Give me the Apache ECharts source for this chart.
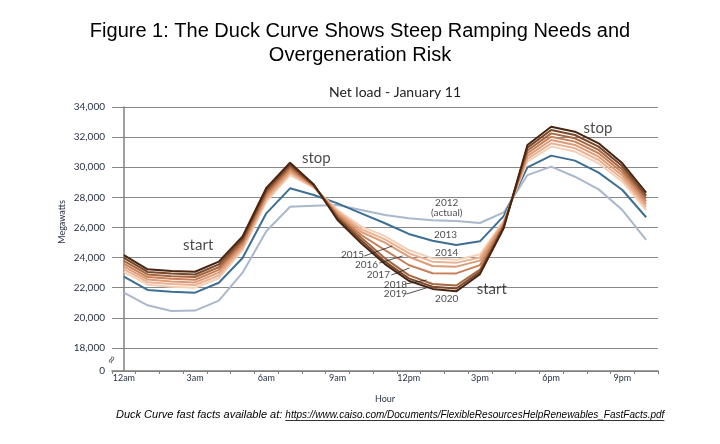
<!DOCTYPE html>
<html>
<head>
<meta charset="utf-8">
<script src="https://cdn.jsdelivr.net/npm/echarts@6/dist/echarts.min.js"></script>
<style>
html,body{margin:0;padding:0;background:#fff;}
#chart{width:720px;height:444px;}
</style>
</head>
<body>
<div id="chart"></div>
<script>
// ---- data ----
const hours = ['12am','1am','2am','3am','4am','5am','6am','7am','8am','9am','10am','11am','12pm','1pm','2pm','3pm','4pm','5pm','6pm','7pm','8pm','9pm','10pm'];
const yTickValues = [16470,18000,20000,22000,24000,26000,28000,30000,32000,34000];
const years = ['2012','2013','2014','2015','2016','2017','2018','2019','2020'];
const y2012 = [21670,20830,20450,20480,21140,23000,25750,27380,27450,27490,27160,26830,26610,26480,26430,26300,27000,29480,30040,29370,28530,27160,25170];
const y2013 = [22730,21850,21740,21670,22330,23970,26940,28600,28160,27600,26940,26280,25570,25120,24840,25080,26750,29990,30770,30440,29640,28490,26680];
const y2014 = [23050,22200,22070,22000,22630,24500,27720,29480,28650,27160,26060,25430,24500,23950,23850,24200,26450,30370,31370,31040,30260,29040,27160];
const y2015 = [23230,22370,22240,22180,22810,24650,27870,29620,28680,27050,25880,25210,24290,23730,23650,24000,26370,30560,31590,31260,30480,29240,27350];
const y2016 = [23420,22540,22420,22350,23000,24800,28020,29750,28720,26940,25700,24990,24060,23440,23400,23800,26280,30740,31810,31480,30700,29450,27540];
const y2017 = [23600,22710,22590,22530,23180,24950,28170,29890,28750,26830,25500,24500,23510,22960,22950,23500,26200,30930,32030,31700,30930,29650,27740];
const y2018 = [23790,22880,22760,22710,23360,25100,28320,30030,28780,26720,25320,23950,22840,22250,22150,23200,26120,31110,32250,31920,31150,29850,27930];
const y2019 = [23980,23050,22940,22880,23550,25250,28470,30160,28820,26610,25130,23730,22620,22070,21950,23050,26030,31300,32470,32140,31370,30060,28120];
const y2020 = [24170,23220,23110,23060,23730,25400,28620,30300,28850,26500,24950,23570,22460,21920,21760,22900,25950,31480,32690,32360,31590,30260,28310];
const seriesValues = [y2012,y2013,y2014,y2015,y2016,y2017,y2018,y2019,y2020];
const seriesColors = ['#a9b8cb','#3c6f93','#f4d0b6','#eab393','#dd9b76','#c8805a','#a6663f','#77482a','#482412'];

// annotation texts (anchored in data units: fractional hour index, MW)
const annotations = [
  {name:'start', at:[3.13,24840], size:15},
  {name:'stop', at:[8.11,30610], size:15},
  {name:'stop', at:[19.97,32610], size:15},
  {name:'start', at:[15.5,21915], size:15},
  {name:'2012', at:[13.6,27625], size:10},
  {name:'(actual)', at:[13.6,26960], size:10},
  {name:'2013', at:[13.55,25500], size:10},
  {name:'2014', at:[13.6,24305], size:10},
  {name:'2015', at:[9.63,24170], size:10},
  {name:'2016', at:[10.22,23510], size:10},
  {name:'2017', at:[10.72,22845], size:10},
  {name:'2018', at:[11.44,22180], size:10},
  {name:'2019', at:[11.44,21580], size:10},
  {name:'2020', at:[13.6,21250], size:10}
];
const leaders = [
  [[10.13,24106],[11.31,24770]],
  [[10.76,23640],[11.74,24106]],
  [[11.27,22845],[12.03,23310]],
  [[11.86,22247],[12.75,22510]],
  [[11.90,21580],[12.87,22050]]
];

const annFont = 'Lato';
const series = [];
years.forEach((yr,i)=>{
  series.push({
    type:'line', name:yr, data:seriesValues[i], xAxisIndex:0, yAxisIndex:0,
    symbol:'none', smooth:false, silent:true,
    lineStyle:{color:seriesColors[i], width:2},
    z: 2+i
  });
});
series.push({
  type:'scatter', xAxisIndex:1, yAxisIndex:0, symbolSize:0, silent:true, z:20,
  data: annotations.map(a=>({name:a.name, value:a.at,
    label:{show:true, position:'inside', formatter:'{b}', color:'#1a1a1a',
      fontFamily:annFont, fontSize:a.size}}))
});
leaders.forEach(l=>{
  series.push({type:'line', xAxisIndex:1, yAxisIndex:0, data:l, symbol:'none', silent:true,
    lineStyle:{color:'#222', width:0.8}, z:19});
});

function measure(text, font){
  const c = document.createElement('canvas').getContext('2d');
  c.font = font; return c.measureText(text).width;
}
const footFontA = 'italic 11px "Liberation Sans"';
const footFontB = 'italic 10px "Liberation Sans"';
const footA = 'Duck Curve fast facts available at: ';
const footB = 'https://www.caiso.com/Documents/FlexibleResourcesHelpRenewables_FastFacts.pdf';
const wA = measure(footA, footFontA), wB = measure(footB, footFontB);
const footX = 116;

const chart = echarts.init(document.getElementById('chart'), null, {renderer:'canvas'});
chart.setOption({
  animation:false,
  backgroundColor:'#ffffff',
  title:[
    {text:'Figure 1: The Duck Curve Shows Steep Ramping Needs and\nOvergeneration Risk',
     left:'center', top:14,
     textStyle:{fontFamily:'Liberation Sans', fontSize:20, fontWeight:'normal', color:'#000', lineHeight:24}},
    {text:'Net load - January 11', left:390, top:80, textAlign:'center',
     textStyle:{fontFamily:annFont, fontSize:14, fontWeight:'normal', color:'#222'}}
  ],
  grid:{left:112, right:62, top:107, bottom:73},
  xAxis:[
    {type:'category', data:hours, boundaryGap:true,
     axisLine:{show:true, lineStyle:{color:'#7f7f7f', width:1.5}},
     axisTick:{show:true, interval:0, length:3, lineStyle:{color:'#7f7f7f'}},
     axisLabel:{interval:2, fontSize:9, color:'#2a3345', fontFamily:annFont, margin:3},
     splitLine:{show:false},
     name:'Hour', nameLocation:'middle', nameGap:24,
     nameTextStyle:{fontSize:9, color:'#2a3345', fontFamily:annFont}},
    {type:'value', min:-0.5, max:22.5, show:false}
  ],
  yAxis:{type:'value', min:16470, max:34000,
    axisLine:{show:true, lineStyle:{color:'#7f7f7f', width:1.5}},
    axisTick:{show:true, length:4, customValues:yTickValues, lineStyle:{color:'#7f7f7f'}},
    axisLabel:{customValues:yTickValues, fontSize:10, color:'#2a3345', fontFamily:annFont, margin:7,
      formatter:v=> v<17000 ? '0' : v.toLocaleString('en-US')},
    splitLine:{show:true, lineStyle:{color:'#8a8a8a', width:1}}
  },
  graphic:[
    {type:'text', x:62, y:222, rotation:Math.PI/2, silent:true,
     style:{text:'Megawatts', font:'9px Lato', fill:'#2a3345', align:'center', verticalAlign:'middle'}},
    {type:'text', x:112, y:360, rotation:Math.PI/3, silent:true,
     style:{text:'≈', font:'11px "DejaVu Sans"', fill:'#555', align:'center', verticalAlign:'middle', backgroundColor:'#fff'}},
    {type:'text', x:footX, y:415, silent:true,
     style:{text:footA, font:footFontA, fill:'#000', align:'left', verticalAlign:'middle'}},
    {type:'text', x:footX+wA, y:415, silent:true,
     style:{text:footB, font:footFontB, fill:'#000', align:'left', verticalAlign:'middle'}},
    {type:'line', silent:true, shape:{x1:footX+wA, y1:420.5, x2:footX+wA+wB, y2:420.5},
     style:{stroke:'#000', lineWidth:0.8}}
  ],
  series:series
});
</script>
</body>
</html>
